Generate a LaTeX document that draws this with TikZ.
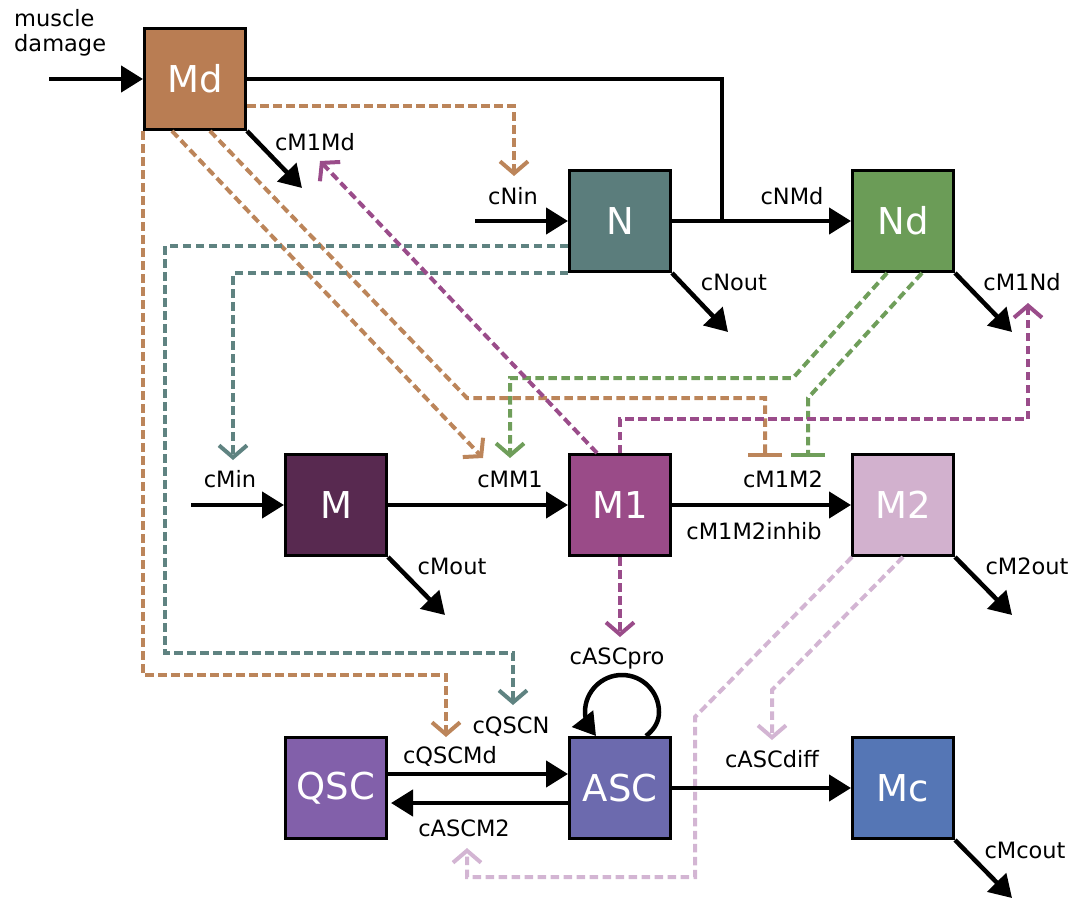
\documentclass[tikz,border=0pt]{standalone}
\usepackage{fontspec}
\setmainfont{DejaVu Sans}
\usetikzlibrary{arrows.meta,calc}
\definecolor{cMd}{HTML}{B97D53}
\definecolor{cN}{HTML}{5B7D7C}
\definecolor{cNd}{HTML}{6B9C57}
\definecolor{cM}{HTML}{582950}
\definecolor{cMone}{HTML}{9A4B88}
\definecolor{cMtwo}{HTML}{D2B1CE}
\definecolor{cQSC}{HTML}{8260AA}
\definecolor{cASC}{HTML}{6C6AAE}
\definecolor{cMc}{HTML}{5576B5}
\definecolor{dBrown}{HTML}{BC855A}
\definecolor{dTeal}{HTML}{5F8381}
\definecolor{dGreen}{HTML}{6F9E5A}
\definecolor{dPurple}{HTML}{9A4C8A}
\definecolor{dPink}{HTML}{D3B5D3}
\begin{document}
\begin{tikzpicture}[x=1pt,y=-1pt,
  box/.style={draw=black, line width=3pt, minimum size=101pt, inner sep=0pt, text=white, font=\fontsize{37}{37}\selectfont},
  lab/.style={font=\fontsize{22.5}{26}\selectfont, inner sep=0pt, anchor=base},
  plain/.style={line width=4.5pt},
  flow/.style={line width=4.5pt, -{Triangle[length=22pt,width=26pt]}},
  infl/.style={line width=4pt, dash pattern=on 8.5pt off 4.5pt, -{Straight Barb[length=12pt,width=28pt]}},
  inhib/.style={line width=4pt, dash pattern=on 8.5pt off 4.5pt, -{Bar[width=34pt]}}]
\useasboundingbox (0,0) rectangle (1086,899);

% boxes
\node[box, fill=cMd] (Md) at (195,79) {Md};
\node[box, fill=cN] (N) at (620,221) {N};
\node[box, fill=cNd] (Nd) at (903,221) {Nd};
\node[box, fill=cM] (M) at (336,505) {M};
\node[box, fill=cMone] (M1) at (620,505) {M1};
\node[box, fill=cMtwo] (M2) at (903,505) {M2};
\node[box, fill=cQSC] (QSC) at (336,788) {QSC};
\node[box, fill=cASC] (ASC) at (620,788) {ASC};
\node[box, fill=cMc] (Mc) at (903,788) {Mc};

% free ends
\coordinate (mdin) at (49,79);
\coordinate (mdout) at (302,188);
\coordinate (jn) at (722,221);
\coordinate (nin) at (475,221);
\coordinate (nout) at (728,332);
\coordinate (ndout) at (1012,332);
\coordinate (min) at (191,505);
\coordinate (mout) at (445,615);
\coordinate (mtwoout) at (1012,615);
\coordinate (mcout) at (1012,898);
\coordinate (tipA) at (514,176);
\coordinate (tipB) at (446,737);
\coordinate (tipC) at (483,458);
\coordinate (barD) at (765,457);
\coordinate (tipE) at (513,705);
\coordinate (tipMin) at (233,460);
\coordinate (tipF) at (510,458);
\coordinate (barG) at (808,457);
\coordinate (tipH) at (320,161);
\coordinate (tipI) at (1028,303);
\coordinate (tipJ) at (620,637);
\coordinate (tipK) at (467,848);
\coordinate (tipL) at (772,740);

% dashed influences
\draw[infl, dBrown] ($(Md.east)+(0,27)$) -| (tipA);
\draw[infl, dBrown] (Md.south west) -- (143,675) -- (446,675) -- (tipB);
\draw[infl, dBrown] ($(Md.south west)+(29,0)$) -- (tipC);
\draw[inhib, dBrown] ($(Md.south west)+(67,0)$) -- (467,398) -- (765,398) -- (barD);
\draw[infl, dTeal] ($(N.west)+(0,25)$) -- (165,246) -- (165,653) -- (513,653) -- (tipE);
\draw[infl, dTeal] (N.south west) -- (233,273) -- (tipMin);
\draw[infl, dGreen] ($(Nd.south west)+(36,0)$) -- (793,378) -- (510,378) -- (tipF);
\draw[inhib, dGreen] ($(Nd.south west)+(71,0)$) -- (808,398) -- (barG);
\draw[infl, dPurple] ($(M1.north west)+(29,0)$) -- (tipH);
\draw[infl, dPurple] (M1.north) -- (620,419) -- (1028,419) -- (tipI);
\draw[infl, dPurple] (M1.south) -- (tipJ);
\draw[infl, dPink] ($(M2.south west)+(1,0)$) -- (695,717) -- (695,877) -- (467,877) -- (tipK);
\draw[infl, dPink] (M2.south) -- (772,690) -- (tipL);

% solid flows
\draw[flow] (mdin) -- (Md.west);
\draw[flow] (Md.south east) -- (mdout);
\draw[plain] (Md.east) -| (jn);
\draw[flow] (nin) -- (N.west);
\draw[flow] (N.east) -- (Nd.west);
\draw[flow] (N.south east) -- (nout);
\draw[flow] (Nd.south east) -- (ndout);
\draw[flow] (min) -- (M.west);
\draw[flow] (M.east) -- (M1.west);
\draw[flow] (M.south east) -- (mout);
\draw[flow] (M1.east) -- (M2.west);
\draw[flow] (M2.south east) -- (mtwoout);
\draw[flow] ($(QSC.east)+(0,-14)$) -- ($(ASC.west)+(0,-14)$);
\draw[flow] ($(ASC.west)+(0,15)$) -- ($(QSC.east)+(3,15)$);
\draw[flow] (ASC.east) -- (Mc.west);
\draw[flow] (Mc.south east) -- (mcout);
\draw[flow] ($(ASC.north)+(26,0)$) .. controls (656,728) and (659,720) .. (659,712)
  .. controls (659,691.6) and (642.4,675) .. (622,675)
  .. controls (601.6,675) and (585,691.6) .. (585,712)
  .. controls (585,720) and (589,727) .. ($(ASC.north)+(-24,0)$);

% labels
\node[lab, anchor=base west] (lmd1) at (14,27) {muscle};
\node[lab, anchor=base west] (lmd2) at (14,52) {damage};
\node[lab] (lcMone) at (315,150) {cM1Md};
\node[lab] (lcNin) at (513,204) {cNin};
\node[lab] (lcNMd) at (792,204) {cNMd};
\node[lab] (lcNout) at (734,290) {cNout};
\node[lab] (lcMoneNd) at (1022,290) {cM1Nd};
\node[lab] (lcMin) at (230,487) {cMin};
\node[lab] (lcMMone) at (510,487) {cMM1};
\node[lab] (lcMoneMtwo) at (783,487) {cM1M2};
\node[lab] (lcinhib) at (754,539) {cM1M2inhib};
\node[lab] (lcMout) at (452,574) {cMout};
\node[lab] (lcMtwoout) at (1027,574) {cM2out};
\node[lab] (lcASCpro) at (617,664) {cASCpro};
\node[lab] (lcQSCN) at (511,733) {cQSCN};
\node[lab] (lcQSCMd) at (450,763) {cQSCMd};
\node[lab] (lcASCMtwo) at (464,836) {cASCM2};
\node[lab] (lcASCdiff) at (772,767) {cASCdiff};
\node[lab] (lcMcout) at (1025,858) {cMcout};
\end{tikzpicture}
\end{document}
